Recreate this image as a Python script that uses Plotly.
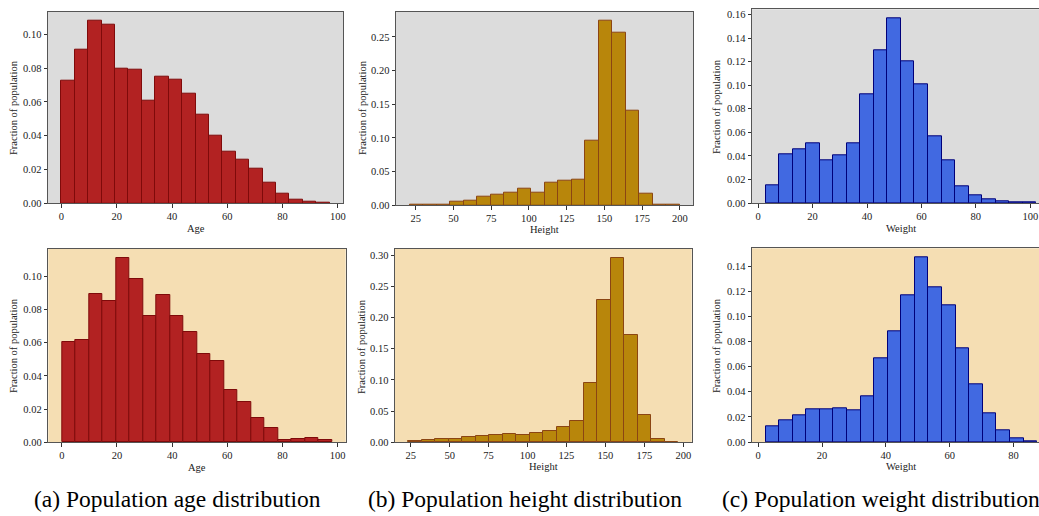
import plotly.graph_objects as go

W, H = 1039, 516

# ---------------- data (fractions of population per bin) ----------------
# bins: (first edge, last edge), 20 equal bins each
age_top_bins = (0.0, 97.0)
age_top = [0.0727, 0.0908, 0.1080, 0.1060, 0.0794, 0.0790, 0.0607, 0.0752, 0.0731, 0.0646,
           0.0527, 0.0403, 0.0303, 0.0257, 0.0204, 0.0122, 0.0059, 0.0020, 0.0010, 0.0004]

height_top_bins = (20.95, 199.9)
height_top = [0.0005, 0.0015, 0.0015, 0.0050, 0.0074, 0.0133, 0.0158, 0.0193, 0.0252, 0.0188,
              0.0331, 0.0360, 0.0380, 0.0958, 0.2737, 0.2560, 0.1408, 0.0178, 0.0015, 0.0005]

weight_top_bins = (2.7, 102.2)
weight_top = [0.0153, 0.0416, 0.0455, 0.0503, 0.0362, 0.0401, 0.0506, 0.0924, 0.1298, 0.1566,
              0.1199, 0.1006, 0.0565, 0.0362, 0.0141, 0.0065, 0.0034, 0.0014, 0.0008, 0.0005]

age_bot_bins = (0.0, 98.0)
age_bot = [0.0604, 0.0614, 0.0894, 0.0850, 0.1110, 0.0984, 0.0762, 0.0886, 0.0764, 0.0666,
           0.0534, 0.0492, 0.0314, 0.0246, 0.0144, 0.0084, 0.0012, 0.0020, 0.0024, 0.0012]

height_bot_bins = (23.5, 196.7)
height_bot = [0.0016, 0.0037, 0.0059, 0.0053, 0.0086, 0.0102, 0.0112, 0.0134, 0.0123, 0.0155,
              0.0182, 0.0246, 0.0348, 0.0947, 0.2283, 0.2952, 0.1727, 0.0433, 0.0059, 0.0010]

weight_bot_bins = (2.3, 87.4)
weight_bot = [0.0127, 0.0175, 0.0212, 0.0260, 0.0260, 0.0268, 0.0252, 0.0361, 0.0663, 0.0883,
              0.1170, 0.1469, 0.1230, 0.1085, 0.0748, 0.0461, 0.0231, 0.0093, 0.0027, 0.0003]

age_ticks = [0, 20, 40, 60, 80, 100]
height_ticks = [25, 50, 75, 100, 125, 150, 175, 200]
weight_ticks = [0, 20, 40, 60, 80, 100]

captions = ["(a) Population age distribution",
            "(b) Population height distribution",
            "(c) Population weight distribution"]

# ---------------- styling / layout ----------------
SERIF = "Liberation Serif"
GRAY_BG = "#dcdcdc"
WHEAT_BG = "#f5deb3"
TXT = "#222"

panels = [
    dict(v=age_top, b=age_top_bins, xl="Age", xt=age_ticks, ys=0.02, fill="#b22222", edge="#7f0a0a",
         bg=GRAY_BG, box=(48, 343, 11.7, 203.3), xr=(-4.85, 101.85), right=True),
    dict(v=height_top, b=height_top_bins, xl="Height", xt=height_ticks, ys=0.05, fill="#b8860b", edge="#8b4513",
         bg=GRAY_BG, box=(396, 693.3, 11.7, 205.3), xr=(12.0, 208.85), right=True),
    dict(v=weight_top, b=weight_top_bins, xl="Weight", xt=weight_ticks, ys=0.02, fill="#4169e1", edge="#00007a",
         bg=GRAY_BG, box=(752, 1039, 9.3, 203), xr=(-2.27, 103.2), right=False),
    dict(v=age_bot, b=age_bot_bins, xl="Age", xt=age_ticks, ys=0.02, fill="#b22222", edge="#7f0a0a",
         bg=WHEAT_BG, box=(48.3, 345.7, 249, 442.3), xr=(-4.9, 102.9), right=True),
    dict(v=height_bot, b=height_bot_bins, xl="Height", xt=height_ticks, ys=0.05, fill="#b8860b", edge="#8b4513",
         bg=WHEAT_BG, box=(395, 691.7, 249, 442.3), xr=(14.9, 205.4), right=True),
    dict(v=weight_bot, b=weight_bot_bins, xl="Weight", xt=weight_ticks, ys=0.02, fill="#4169e1", edge="#00007a",
         bg=WHEAT_BG, box=(752, 1039, 248.3, 442), xr=(-1.95, 88.0), right=False),
]

ytitle_pos = [(13, 108), (362, 108), (716, 107), (13, 346), (361, 347), (716, 346)]
xtitle_y = [228, 229, 228, 467, 466, 466]
xtitle_x = [195.5, 544.5, 901, 197, 543.5, 901]

fig = go.Figure()
layout = dict(width=W, height=H, margin=dict(l=0, r=0, t=0, b=0),
              paper_bgcolor="white", plot_bgcolor="white", showlegend=False,
              font=dict(family=SERIF, size=10.5, color=TXT), bargap=0, shapes=[], annotations=[])

for i, p in enumerate(panels):
    n = len(p["v"])
    lo, hi = p["b"]
    w = (hi - lo) / n
    centers = [lo + w * (k + 0.5) for k in range(n)]
    xa = "x" if i == 0 else f"x{i+1}"
    ya = "y" if i == 0 else f"y{i+1}"
    fig.add_trace(go.Bar(x=centers, y=p["v"], width=[w] * n, xaxis=xa, yaxis=ya,
                         marker=dict(color=p["fill"], line=dict(color=p["edge"], width=1)),
                         hoverinfo="x+y"))
    l, r, t, b = p["box"]
    ymax = max(p["v"]) * 1.05
    nt = int(ymax / p["ys"] + 1e-9)
    yt = [round(p["ys"] * k, 4) for k in range(nt + 1)]
    xkey = "xaxis" if i == 0 else f"xaxis{i+1}"
    ykey = "yaxis" if i == 0 else f"yaxis{i+1}"
    layout[xkey] = dict(domain=[l / W, r / W], range=list(p["xr"]), anchor=ya,
                        tickvals=p["xt"], ticks="outside", ticklen=3.5, tickwidth=1, tickcolor="#333",
                        showline=True, linecolor="#555", linewidth=1, mirror=True,
                        showgrid=False, zeroline=False, automargin=False,
                        tickfont=dict(family=SERIF, size=10.5, color=TXT))
    layout[ykey] = dict(domain=[1 - b / H, 1 - t / H], range=[0, ymax], anchor=xa,
                        tickvals=yt, tickformat=".2f", ticks="outside", ticklen=3.5, tickwidth=1,
                        tickcolor="#333", showline=True, linecolor="#555", linewidth=1,
                        mirror=p["right"],
                        showgrid=False, zeroline=False, automargin=False,
                        tickfont=dict(family=SERIF, size=10.5, color=TXT))
    layout["shapes"].append(dict(type="rect", xref="paper", yref="paper", layer="below",
                                 x0=l / W, x1=r / W, y0=1 - b / H, y1=1 - t / H,
                                 fillcolor=p["bg"], line=dict(width=0)))
    yx, yy = ytitle_pos[i]
    layout["annotations"].append(dict(text="Fraction of population", xref="paper", yref="paper",
                                      x=yx / W, y=1 - yy / H, textangle=-90, showarrow=False,
                                      xanchor="center", yanchor="middle",
                                      font=dict(family=SERIF, size=10.5, color=TXT)))
    layout["annotations"].append(dict(text=p["xl"], xref="paper", yref="paper",
                                      x=xtitle_x[i] / W, y=1 - xtitle_y[i] / H, showarrow=False,
                                      xanchor="center", yanchor="middle",
                                      font=dict(family=SERIF, size=10.5, color=TXT)))

cap_x = [32, 366, 720]
for cx, txt in zip(cap_x, captions):
    layout["annotations"].append(dict(text=txt, xref="paper", yref="paper", x=cx / W, y=1 - 499 / H,
                                      xanchor="left", yanchor="middle", showarrow=False,
                                      font=dict(family=SERIF, size=23.5, color="black")))

fig.update_layout(**layout)
fig.write_html("out.html", config={"displayModeBar": False})
